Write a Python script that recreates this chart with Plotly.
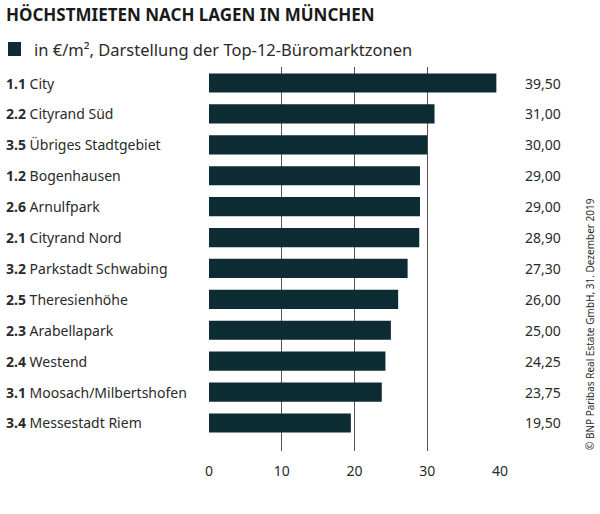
import plotly.graph_objects as go

codes = ["1.1", "2.2", "3.5", "1.2", "2.6", "2.1", "3.2", "2.5", "2.3", "2.4", "3.1", "3.4"]
names = ["City", "Cityrand Süd", "Übriges Stadtgebiet", "Bogenhausen", "Arnulfpark",
         "Cityrand Nord", "Parkstadt Schwabing", "Theresienhöhe", "Arabellapark",
         "Westend", "Moosach/Milbertshofen", "Messestadt Riem"]
values = [39.50, 31.00, 30.00, 29.00, 29.00, 28.90, 27.30, 26.00, 25.00, 24.25, 23.75, 19.50]
x_ticks = [0, 10, 20, 30, 40]

title = "HÖCHSTMIETEN NACH LAGEN IN MÜNCHEN"
legend_text = "in €/m², Darstellung der Top-12-Büromarktzonen"
source = "© BNP Paribas Real Estate GmbH, 31. Dezember 2019"

BAR = "#0c2b33"
TXT = "#2a2a2a"
FONT = "Noto Sans"

W, H = 600, 514
ML, MR, MT, MB = 209, 100, 67, 63
PW = W - ML - MR
PH = H - MT - MB

cats = [f"{c} {n}" for c, n in zip(codes, names)]

fig = go.Figure(go.Bar(
    x=values, y=cats, orientation="h",
    marker=dict(color=BAR, line=dict(width=0)),
    width=0.62, showlegend=False, hoverinfo="skip",
))

annotations = []
for c, n, cat, v in zip(codes, names, cats, values):
    annotations.append(dict(
        x=-(ML - 4) / PW, xref="paper", y=cat, yref="y",
        text=f"<b>{c}</b> {n}", showarrow=False, xanchor="left", yanchor="middle",
        font=dict(family=FONT, size=14, color=TXT),
    ))
    annotations.append(dict(
        x=(523 - ML) / PW, xref="paper", y=cat, yref="y",
        text=f"{v:.2f}".replace(".", ","), showarrow=False, xanchor="left", yanchor="middle",
        font=dict(family=FONT, size=14, color=TXT),
    ))

annotations.append(dict(
    x=(4 - ML) / PW, xref="paper", y=1 + (MT - 15) / PH, yref="paper",
    text=title, showarrow=False, xanchor="left", yanchor="middle",
    font=dict(family=FONT, size=17, color="#1a1a1a", weight="bold"),
))
annotations.append(dict(
    x=(32 - ML) / PW, xref="paper", y=1 + (MT - 49) / PH, yref="paper",
    text=legend_text, showarrow=False, xanchor="left", yanchor="middle",
    font=dict(family=FONT, size=16.5, color=TXT),
))
annotations.append(dict(
    x=(590 - ML) / PW, xref="paper", y=1 - (324 - MT) / PH, yref="paper",
    text=source, showarrow=False, textangle=-90, xanchor="center", yanchor="middle",
    font=dict(family=FONT, size=10, color=TXT),
))

shapes = [dict(
    type="rect", xref="paper", yref="paper",
    x0=(8 - ML) / PW, x1=(21 - ML) / PW,
    y0=1 + (MT - 56) / PH, y1=1 + (MT - 42) / PH,
    fillcolor=BAR, line=dict(width=0),
)]

step = 30.9
top_pad = 16 / step
bot_pad = 28 / step

fig.update_layout(
    width=W, height=H,
    margin=dict(l=ML, r=MR, t=MT, b=MB),
    paper_bgcolor="white", plot_bgcolor="white",
    xaxis=dict(range=[0, 40], tickvals=x_ticks, showgrid=True, gridcolor="#555555",
               gridwidth=1, zeroline=False, showline=False, ticks="",
               tickfont=dict(family=FONT, size=14, color=TXT), ticklabelstandoff=10,
               fixedrange=True),
    yaxis=dict(categoryorder="array", categoryarray=cats,
               range=[len(cats) - 1 + bot_pad, -top_pad],
               showticklabels=False, showgrid=False, zeroline=False, ticks="",
               fixedrange=True),
    annotations=annotations, shapes=shapes,
    bargap=0.38,
)

fig.write_html("out.html", config={"displayModeBar": False},
               post_script="document.body.style.margin='0';document.body.style.overflow='hidden';")
